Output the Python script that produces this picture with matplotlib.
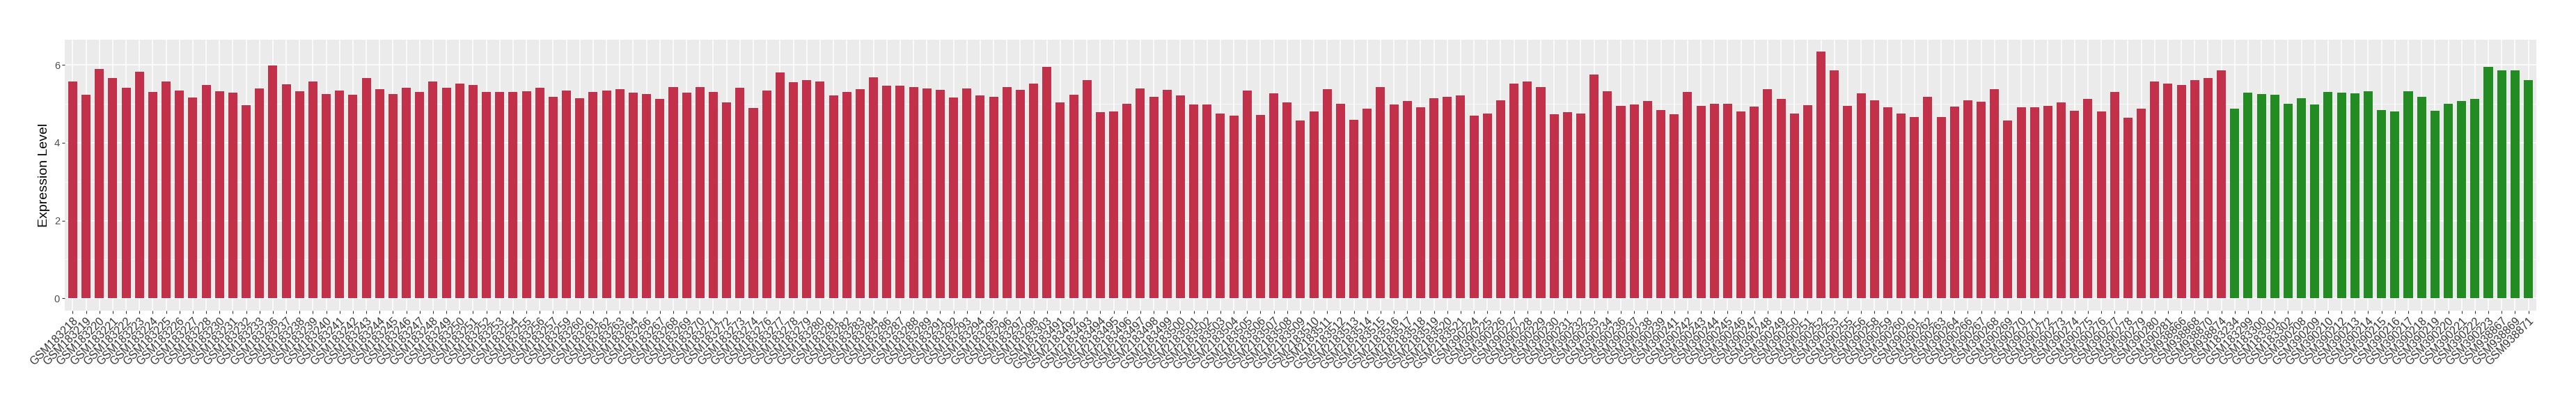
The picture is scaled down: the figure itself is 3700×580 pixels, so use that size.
import matplotlib
matplotlib.use("Agg")
import matplotlib.pyplot as plt
import numpy as np

plt.rcParams["font.family"] = ["Liberation Sans", "DejaVu Sans"]

# sample ids, in plot order
ids_183 = [218, 219, 220, 221, 222, 223, 224, 225, 226, 227, 228, 230, 231, 232, 233,
           236, 237, 238, 239, 240, 241, 242, 243, 244, 245, 246, 247, 248, 249, 250,
           251, 252, 253, 254, 255, 256, 257, 259, 260, 261, 262, 263, 264, 266, 267,
           268, 269, 270, 271, 272, 273, 274, 276, 277, 278, 279, 280, 281, 282, 283,
           284, 286, 287, 288, 289, 291, 292, 293, 294, 295, 296, 297, 298, 303]
ids_2183 = list(range(491, 522))
ids_390 = [224, 225, 226, 227, 228, 229, 230, 231, 232, 233, 234, 236, 237, 238, 239,
           241, 242, 243, 244, 245, 246, 247, 248, 249, 250, 251, 252, 253, 255, 256,
           258, 259, 260, 261, 262, 263, 264, 266, 267, 268, 269, 270, 271, 272, 273,
           274, 275, 276, 277, 278, 279, 280, 281]
ids_938 = [866, 868, 870, 874]

group_a = (["GSM183" + str(i) for i in ids_183]
           + ["GSM2183" + str(i) for i in ids_2183]
           + ["GSM390" + str(i) for i in ids_390]
           + ["GSM938" + str(i) for i in ids_938])
group_b = (["GSM183234", "GSM183299", "GSM183300", "GSM183301", "GSM183302"]
           + ["GSM390" + str(i) for i in [208, 209, 210, 212, 213, 214, 215, 216, 217,
                                           218, 219, 220, 221, 222, 223]]
           + ["GSM938867", "GSM938869", "GSM938871"])

values_a = [5.57, 5.23, 5.89, 5.66, 5.41, 5.83, 5.30, 5.58, 5.35, 5.17,
            5.48, 5.32, 5.28, 4.96, 5.39, 5.98, 5.50, 5.32, 5.57, 5.25,
            5.34, 5.23, 5.66, 5.37, 5.25, 5.41, 5.30, 5.57, 5.41, 5.53,
            5.48, 5.30, 5.30, 5.30, 5.32, 5.41, 5.18, 5.34, 5.14, 5.30,
            5.34, 5.37, 5.28, 5.25, 5.12, 5.43, 5.28, 5.44, 5.30, 5.03,
            5.41, 4.89, 5.34, 5.80, 5.55, 5.62, 5.57, 5.21, 5.30, 5.37,
            5.68, 5.46, 5.46, 5.43, 5.39, 5.36, 5.16, 5.39, 5.21, 5.18,
            5.44, 5.36, 5.53, 5.96, 5.03, 5.23, 5.61, 4.78, 4.80, 5.00,
            5.39, 5.18, 5.36, 5.21, 4.98, 4.98, 4.76, 4.69, 5.34, 4.71,
            5.27, 5.03, 4.57, 4.80, 5.37, 5.00, 4.59, 4.87, 5.44, 4.98,
            5.07, 4.91, 5.14, 5.19, 5.21, 4.69, 4.76, 5.10, 5.53, 5.57,
            5.44, 4.73, 4.78, 4.76, 5.75, 5.32, 4.94, 4.98, 5.07, 4.84,
            4.73, 5.30, 4.94, 5.01, 5.00, 4.80, 4.93, 5.37, 5.12, 4.76,
            4.96, 6.34, 5.87, 4.94, 5.27, 5.10, 4.91, 4.75, 4.67, 5.18,
            4.66, 4.93, 5.09, 5.05, 5.37, 4.57, 4.91, 4.91, 4.94, 5.03,
            4.82, 5.12, 4.80, 5.30, 4.64, 4.87, 5.57, 5.52, 5.48, 5.62,
            5.66, 5.86]
values_b = [4.87, 5.28, 5.25, 5.23, 5.01, 5.14, 4.98, 5.30, 5.28, 5.27,
            5.32, 4.84, 4.80, 5.32, 5.19, 4.82, 5.01, 5.07, 5.12, 5.96,
            5.86, 5.87, 5.62]

color_a = "#C33049"
color_b = "#228B22"

labels = group_a + group_b
values = values_a + values_b
colors = [color_a] * len(values_a) + [color_b] * len(values_b)
x = np.arange(len(labels))

fig = plt.figure(figsize=(37, 5.8), dpi=100)
ax = fig.add_axes([0.0251, 0.231, 0.9595, 0.6714])
ax.set_facecolor("#EBEBEB")

ax.bar(x, values, width=0.68, color=colors, zorder=3)

ymax = max(values)
ax.set_xlim(-0.6, len(labels) - 0.4)
ax.set_ylim(-0.05 * ymax, 1.05 * ymax)
ax.set_yticks([0, 2, 4, 6])
ax.set_yticks([1, 3, 5], minor=True)
ax.set_xticks(x)
ax.set_xticklabels(labels, rotation=45, ha="right", rotation_mode="anchor", fontsize=11.5)

ax.grid(which="major", color="white", linewidth=1.1, zorder=0)
ax.grid(which="minor", axis="y", color="white", linewidth=0.5, zorder=0)
for s in ax.spines.values():
    s.set_visible(False)
ax.tick_params(axis="both", which="major", length=3, width=0.8, color="#333333",
               labelcolor="#333333", pad=2)
ax.tick_params(axis="y", labelsize=10.5, labelcolor="#4D4D4D")
ax.tick_params(which="minor", length=0)

ax.set_ylabel("Expression Level", fontsize=14, labelpad=4)

fig.savefig("out.png", dpi=100)
